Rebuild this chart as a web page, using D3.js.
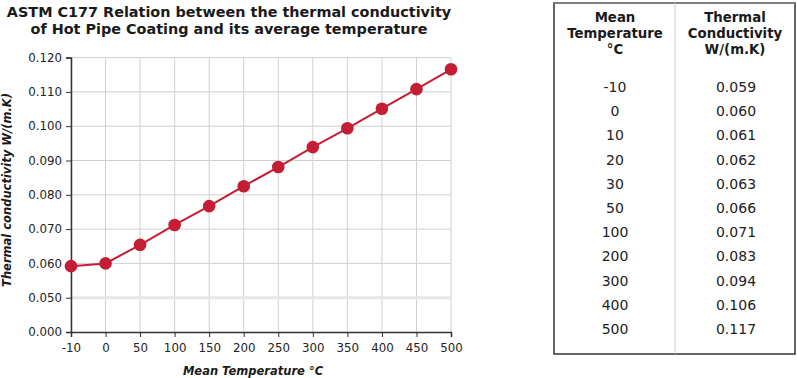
<!DOCTYPE html>
<html><head><meta charset="utf-8">
<script src="https://cdn.jsdelivr.net/npm/d3@7"></script>
<style>
body{margin:0;background:#fff;}
svg{display:block;font-family:"DejaVu Sans",sans-serif;}
</style></head>
<body>
<svg id="c" width="797" height="378"></svg>
<script>
const temps = ["-10","0","50","100","150","200","250","300","350","400","450","500"];
const conductivity = [0.0592,0.0600,0.0654,0.0712,0.0767,0.0825,0.0881,0.0939,0.0994,0.1051,0.1108,0.1166];
const yTicks = [0,0.05,0.06,0.07,0.08,0.09,0.10,0.11,0.12];
const tableTemps = ["-10","0","10","20","30","50","100","200","300","400","500"];
const tableValues = ["0.059","0.060","0.061","0.062","0.063","0.066","0.071","0.083","0.094","0.106","0.117"];
const titleLines = ["ASTM C177 Relation between the thermal conductivity","of Hot Pipe Coating and its average temperature"];
const headerTemp = ["Mean","Temperature","°C"];
const headerCond = ["Thermal","Conductivity","W/(m.K)"];

const svg = d3.select("#c");
const red = "#c41e34";
const x = d3.scalePoint().domain(temps).range([71,451]);
const y = d3.scaleLinear().domain([0,0.05,0.12]).range([332,297.7,57.6]);

// title
svg.append("g").selectAll("text").data(titleLines).join("text")
  .attr("x",229).attr("y",(d,i)=>17+i*17).attr("text-anchor","middle")
  .attr("font-size",14.4).attr("font-weight","bold").attr("fill","#1a1a1a").text(d=>d);

// grid
svg.append("g").selectAll("line").data(temps).join("line")
  .attr("x1",d=>x(d)).attr("x2",d=>x(d)).attr("y1",y(0.12)).attr("y2",y(0))
  .attr("stroke","#d0d0d0").attr("stroke-width",1);
svg.append("g").selectAll("line").data(yTicks.filter(v=>v>0)).join("line")
  .attr("x1",71).attr("x2",451).attr("y1",d=>y(d)).attr("y2",d=>y(d))
  .attr("stroke",d=>d===0.05?"#e6e6e6":"#d0d0d0").attr("stroke-width",d=>d===0.05?3:1);

// axes
const fmt = d3.format(".3f");
const yAxis = svg.append("g").attr("transform","translate(71,0)")
  .call(d3.axisLeft(y).tickValues(yTicks).tickFormat(fmt).tickSize(5).tickPadding(4));
const xAxis = svg.append("g").attr("transform","translate(0,332)")
  .call(d3.axisBottom(x).tickSize(5).tickPadding(7));
[yAxis,xAxis].forEach(a=>{
  a.select(".domain").attr("stroke","#333").attr("stroke-width",1.5);
  a.selectAll(".tick line").attr("stroke","#333");
  a.selectAll("text").attr("font-size",11.8).attr("fill","#222").attr("font-family","DejaVu Sans, sans-serif");
});

// axis titles
svg.append("text").attr("x",253).attr("y",375).attr("text-anchor","middle")
  .attr("font-size",11.5).attr("font-weight","bold").attr("font-style","italic").attr("fill","#1a1a1a")
  .text("Mean Temperature °C");
svg.append("text").attr("transform","translate(11,190) rotate(-90)").attr("text-anchor","middle")
  .attr("font-size",11.5).attr("font-weight","bold").attr("font-style","italic").attr("fill","#1a1a1a")
  .text("Thermal conductivity W/(m.K)");

// line + points
const line = d3.line().x((d,i)=>x(temps[i])).y(d=>y(d));
svg.append("path").datum(conductivity).attr("d",line).attr("fill","none").attr("stroke",red).attr("stroke-width",2);
svg.append("g").selectAll("circle").data(conductivity).join("circle")
  .attr("cx",(d,i)=>x(temps[i])).attr("cy",d=>y(d)).attr("r",6.3).attr("fill",red);

// table
const tb = svg.append("g");
tb.append("rect").attr("x",554).attr("y",3).attr("width",241).attr("height",351)
  .attr("fill","none").attr("stroke","#333").attr("stroke-width",1.5);
tb.append("line").attr("x1",554).attr("x2",795).attr("y1",3).attr("y2",3).attr("stroke","#888").attr("stroke-width",1.5);
tb.append("line").attr("x1",675).attr("x2",675).attr("y1",3).attr("y2",354).attr("stroke","#ccc");
const hy = d3.scaleLinear().domain([0,2]).range([22,54]);
tb.append("g").selectAll("text").data(headerTemp).join("text")
  .attr("x",615).attr("y",(d,i)=>hy(i)).attr("text-anchor","middle").attr("font-size",13.3)
  .attr("font-weight","bold").attr("fill","#1a1a1a").text(d=>d);
tb.append("g").selectAll("text").data(headerCond).join("text")
  .attr("x",735).attr("y",(d,i)=>hy(i)).attr("text-anchor","middle").attr("font-size",13.3)
  .attr("font-weight","bold").attr("fill","#1a1a1a").text(d=>d);
const ry = d3.scaleLinear().domain([0,tableTemps.length-1]).range([92,334]);
tb.append("g").selectAll("text").data(tableTemps).join("text")
  .attr("x",615).attr("y",(d,i)=>ry(i)).attr("text-anchor","middle").attr("font-size",14)
  .attr("fill","#222").text(d=>d);
tb.append("g").selectAll("text").data(tableValues).join("text")
  .attr("x",736).attr("y",(d,i)=>ry(i)).attr("text-anchor","middle").attr("font-size",14)
  .attr("fill","#222").text(d=>d);
</script>
</body></html>
